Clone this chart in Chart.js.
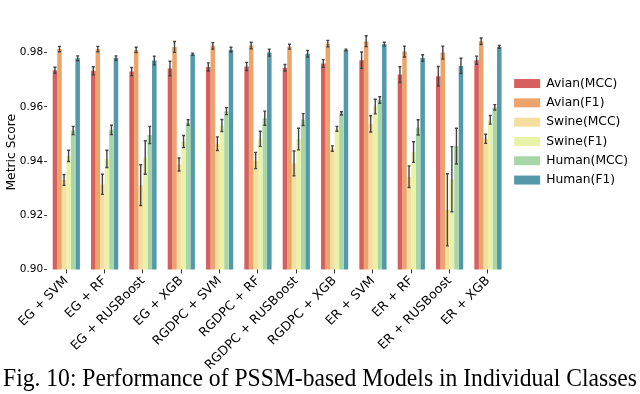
<!DOCTYPE html>
<html>
<head>
<meta charset="utf-8">
<script src="https://cdn.jsdelivr.net/npm/chart.js@4.4.1/dist/chart.umd.min.js"></script>
<style>
  html, body { margin: 0; padding: 0; background: #fff; overflow: hidden; }
  #wrap { width: 640px; height: 373px; position: relative; }
  #caption {
    position: absolute; left: 3px; top: 364px;
    font-family: "Liberation Serif", "Times New Roman", serif;
    font-size: 25.5px; line-height: 28px; color: #000;
    white-space: nowrap; display: inline-block; transform-origin: 0 0;
  }
</style>
</head>
<body>
<div id="wrap"><canvas id="myChart"></canvas></div>
<div id="caption">Fig. 10: Performance of PSSM-based Models in Individual Classes</div>
<script>
// x categories
let labels = ["EG + SVM", "EG + RF", "EG + RUSBoost", "EG + XGB",
              "RGDPC + SVM", "RGDPC + RF", "RGDPC + RUSBoost", "RGDPC + XGB",
              "ER + SVM", "ER + RF", "ER + RUSBoost", "ER + XGB"];

// mean scores per series
let avianMcc = [0.9735, 0.9733, 0.9730, 0.9741, 0.9747, 0.9749, 0.9744, 0.9760, 0.9772, 0.9719, 0.9713, 0.9772];
let avianF1  = [0.9813, 0.9813, 0.9810, 0.9821, 0.9825, 0.9826, 0.9822, 0.9833, 0.9842, 0.9804, 0.9800, 0.9842];
let swineMcc = [0.9330, 0.9314, 0.9311, 0.9387, 0.9464, 0.9402, 0.9391, 0.9446, 0.9537, 0.9342, 0.9220, 0.9482];
let swineF1  = [0.9419, 0.9408, 0.9413, 0.9472, 0.9531, 0.9482, 0.9481, 0.9519, 0.9601, 0.9433, 0.9333, 0.9552];
let humanMcc = [0.9513, 0.9515, 0.9496, 0.9542, 0.9584, 0.9558, 0.9553, 0.9576, 0.9625, 0.9524, 0.9455, 0.9598];
let humanF1  = [0.9779, 0.9780, 0.9771, 0.9794, 0.9811, 0.9800, 0.9796, 0.9810, 0.9831, 0.9780, 0.9751, 0.9821];

// error bar half-widths
let avianMccErr = [0.0011, 0.0015, 0.0015, 0.0027, 0.0015, 0.0015, 0.0012, 0.0014, 0.0030, 0.0029, 0.0036, 0.0015];
let avianF1Err  = [0.0010, 0.0010, 0.0010, 0.0020, 0.0012, 0.0012, 0.0009, 0.0012, 0.0020, 0.0020, 0.0024, 0.0012];
let swineMccErr = [0.0020, 0.0037, 0.0075, 0.0024, 0.0025, 0.0030, 0.0046, 0.0010, 0.0030, 0.0040, 0.0133, 0.0017];
let swineF1Err  = [0.0021, 0.0032, 0.0062, 0.0022, 0.0022, 0.0028, 0.0040, 0.0009, 0.0027, 0.0038, 0.0120, 0.0016];
let humanMccErr = [0.0015, 0.0017, 0.0032, 0.0010, 0.0013, 0.0026, 0.0022, 0.0006, 0.0012, 0.0028, 0.0066, 0.0010];
let humanF1Err  = [0.0009, 0.0008, 0.0016, 0.0004, 0.0009, 0.0013, 0.0012, 0.0003, 0.0007, 0.0012, 0.0028, 0.0005];

let seriesNames = ["Avian(MCC)", "Avian(F1)", "Swine(MCC)", "Swine(F1)", "Human(MCC)", "Human(F1)"];
let seriesColors = ["#d6605e", "#eca46b", "#f4dfa0", "#e9f2a8", "#a7d6a8", "#5499a9"];
let seriesData = [avianMcc, avianF1, swineMcc, swineF1, humanMcc, humanF1];
let seriesErr = [avianMccErr, avianF1Err, swineMccErr, swineF1Err, humanMccErr, humanF1Err];

const FONT = "'DejaVu Sans', sans-serif";

// squeeze the caption so it spans the page width like the paper figure
const cap = document.getElementById('caption');
const capW = cap.getBoundingClientRect().width;
cap.style.transform = 'scaleX(' + (634 / capW) + ')';

// draws the std error bars on top of the bars
const errorBars = {
  id: 'errorBars',
  afterDatasetsDraw(chart) {
    const ctx = chart.ctx;
    const yScale = chart.scales.y;
    ctx.save();
    ctx.strokeStyle = '#444';
    ctx.lineWidth = 1.4;
    chart.data.datasets.forEach((ds, i) => {
      const meta = chart.getDatasetMeta(i);
      meta.data.forEach((bar, j) => {
        const v = ds.data[j], e = ds.errors[j];
        const yTop = yScale.getPixelForValue(v + e);
        const yBot = yScale.getPixelForValue(v - e);
        ctx.beginPath();
        ctx.moveTo(bar.x, yTop); ctx.lineTo(bar.x, yBot);
        ctx.moveTo(bar.x - 1.5, yTop); ctx.lineTo(bar.x + 1.5, yTop);
        ctx.moveTo(bar.x - 1.5, yBot); ctx.lineTo(bar.x + 1.5, yBot);
        ctx.stroke();
      });
    });
    ctx.restore();
  }
};

const ctx = document.getElementById('myChart');
new Chart(ctx, {
  type: 'bar',
  data: {
    labels: labels,
    datasets: seriesNames.map((name, i) => ({
      label: name,
      data: seriesData[i],
      errors: seriesErr[i],
      backgroundColor: seriesColors[i],
      borderWidth: 0,
      barPercentage: 1.0,
      categoryPercentage: 0.71
    }))
  },
  options: {
    responsive: true,
    maintainAspectRatio: false,
    animation: false,
    layout: { padding: { top: 35, left: 4, right: 2, bottom: 0 } },
    plugins: {
      tooltip: { enabled: false },
      legend: {
        position: 'right',
        align: 'start',
        title: { display: true, text: '', padding: { top: 21, bottom: 0 } },
        labels: {
          boxWidth: 26, boxHeight: 9, padding: 7,
          color: '#000',
          font: { family: FONT, size: 12.3 }
        }
      }
    },
    scales: {
      x: {
        border: { display: false },
        grid: { display: true, drawOnChartArea: false, drawTicks: true, tickLength: 4, offset: false, color: '#333' },
        ticks: {
          color: '#000', minRotation: 45, maxRotation: 45, autoSkip: false,
          font: { family: FONT, size: 12.7 }, padding: 0
        }
      },
      y: {
        min: 0.90, max: 0.9865,
        border: { display: false },
        grid: { display: true, drawOnChartArea: false, drawTicks: true, tickLength: 3, color: '#333' },
        ticks: {
          stepSize: 0.02, includeBounds: false, color: '#000', padding: 1,
          font: { family: FONT, size: 10.5 },
          callback: v => v.toFixed(2)
        },
        title: { display: true, text: 'Metric Score', color: '#000', font: { family: FONT, size: 12.3 }, padding: 0 }
      }
    }
  },
  plugins: [errorBars]
});
</script>
</body>
</html>
